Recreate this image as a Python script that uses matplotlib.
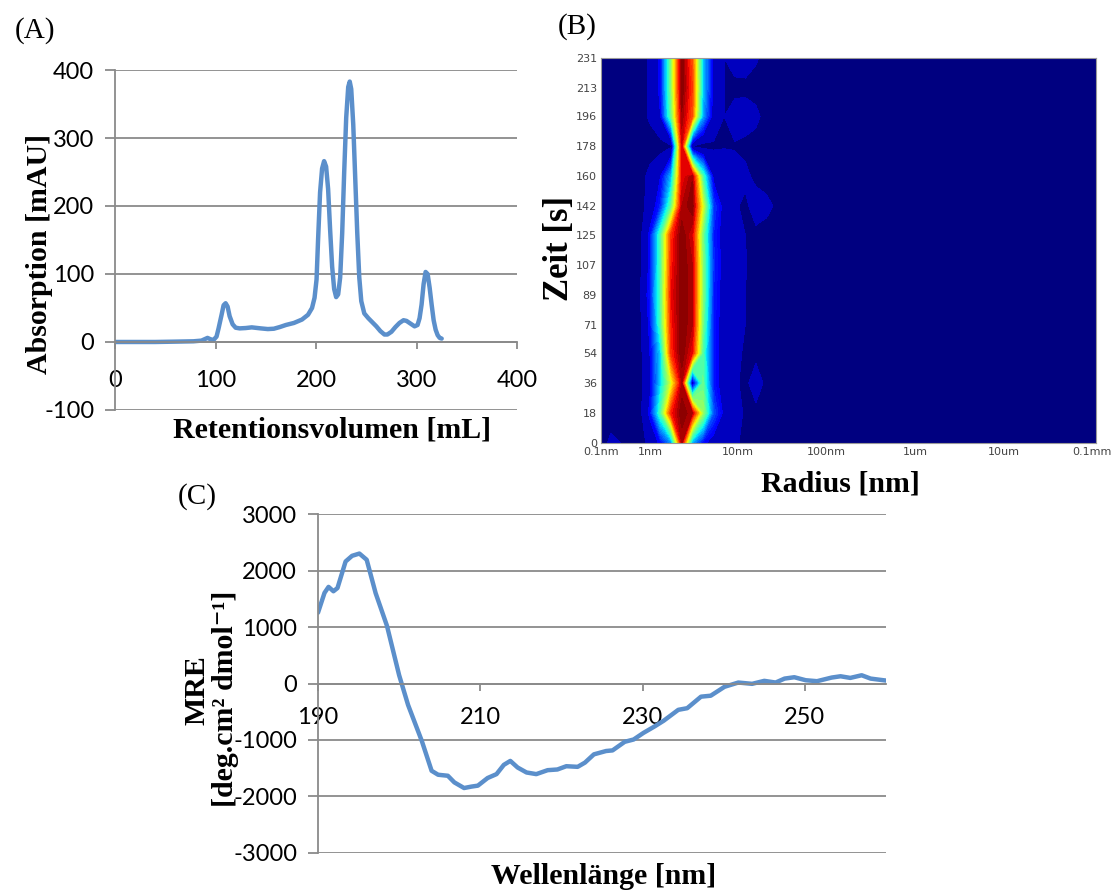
import numpy as np
import matplotlib.pyplot as plt

plt.rcParams['axes.unicode_minus'] = False

# ---- (A) size exclusion chromatogram ----
ret_volume = [0, 20, 40, 60, 78, 86, 92, 95, 98, 101, 103, 106, 108, 110, 112, 114, 117, 120,
              124, 130, 136, 145, 152, 158, 164, 170, 178, 186, 192, 196, 198.5, 200.5, 202,
              204, 206, 208, 210, 212, 214, 216, 218, 220, 222, 224, 226, 228, 230, 232,
              233.5, 235, 237, 239, 241, 243, 245, 248, 252, 256, 260, 264, 268, 271, 275,
              279, 283, 287, 290, 294, 298, 301, 303, 305, 307, 309, 311, 313, 315, 317,
              319, 321, 323, 325]
absorbance = [0, 0, 0, 0.5, 1, 2, 6, 4, 3, 8, 20, 40, 54, 57, 52, 38, 26, 21,
              20, 20.5, 21.5, 20, 19, 19.5, 22, 25, 28, 33, 40, 50, 65, 92, 150,
              220, 255, 266, 258, 225, 165, 111, 78, 66, 70, 95, 160, 250, 330, 375,
              383, 372, 320, 240, 160, 95, 60, 42, 35, 29, 23, 16, 11, 11, 15,
              22, 28, 32, 31, 27, 23, 25, 35, 55, 85, 103, 100, 80, 55, 32,
              18, 10, 6, 5]

# ---- (B) DLS size distribution over time ----
dls_time = [0, 18, 36, 54, 71, 89, 107, 125, 142, 160, 178, 196, 213, 231]
dls_radius_nm = [0.28, 0.36, 0.76, 1.0, 1.32, 1.74, 2.29, 3.02, 3.98, 5.25, 6.92, 9.12,
                 12.0, 15.8, 20.9, 31.6, 100, 1000, 10000, 112000]
dls_intensity = [
    [0, .045, 0, .05, .14, .28, .95, .30, .14, .08, .06, .05, 0, 0, 0, 0, 0, 0, 0, 0],
    [0, 0, 0, .14, .45, .88, 1.0, .95, .55, .22, .10, .06, .02, 0, 0, 0, 0, 0, 0, 0],
    [0, 0, 0, .10, .35, .62, .95, .05, .48, .16, .07, .05, 0, .09, 0, 0, 0, 0, 0, 0],
    [0, 0, 0, .12, .35, .86, 1.0, .90, .45, .16, .08, .05, .02, 0, 0, 0, 0, 0, 0, 0],
    [0, 0, 0, .14, .45, .88, 1.0, .95, .50, .16, .08, .05, .03, 0, 0, 0, 0, 0, 0, 0],
    [0, 0, .02, .16, .46, .90, 1.0, .95, .52, .17, .08, .05, .03, 0, 0, 0, 0, 0, 0, 0],
    [0, 0, 0, .14, .45, .88, 1.0, .95, .52, .18, .09, .06, .035, 0, 0, 0, 0, 0, 0, 0],
    [0, 0, 0, .14, .45, .86, 1.0, .92, .50, .17, .08, .05, .03, 0, 0, 0, 0, 0, 0, 0],
    [0, 0, 0, .06, .18, .48, .95, 1.0, .62, .20, .09, .05, 0, .09, .05, 0, 0, 0, 0, 0],
    [0, 0, 0, .05, .12, .32, .90, .97, .45, .10, .09, .09, .06, 0, 0, 0, 0, 0, 0, 0],
    [0, 0, 0, 0, 0, .02, .92, .02, 0, .02, .025, .02, 0, 0, 0, 0, 0, 0, 0, 0],
    [0, 0, 0, .04, .12, .48, .97, .82, .30, .08, .03, .08, .09, .05, 0, 0, 0, 0, 0, 0],
    [0, 0, 0, .04, .14, .52, 1.0, .85, .34, .10, .03, 0, 0, 0, 0, 0, 0, 0, 0, 0],
    [0, 0, 0, .04, .14, .52, 1.0, .82, .34, .10, .03, .08, .09, .04, 0, 0, 0, 0, 0, 0],
]
radius_tick_nm = [0.28, 1, 10, 100, 1000, 10000, 100000]
radius_ticklabels = ['0.1nm', '1nm', '10nm', '100nm', '1um', '10um', '0.1mm']

# ---- (C) CD spectrum ----
cd_wavelength = [190, 190.8, 191.3, 191.9, 192.4, 193.4, 194.2, 195.1, 196.0, 197.1, 198.5,
                 200.0, 201.1, 202.8, 204.0, 204.8, 206.0, 206.8, 208.0, 208.9, 209.7, 210.9,
                 212.0, 212.9, 213.7, 214.6, 215.7, 216.9, 218.3, 219.5, 220.6, 222.0, 222.9,
                 224.0, 225.5, 226.3, 227.8, 228.9, 230.1, 231.5, 232.6, 234.4, 235.5, 237.2,
                 238.4, 240.1, 241.8, 243.5, 245.0, 246.4, 247.5, 248.7, 250.1, 251.5, 253.3,
                 254.4, 255.6, 257.0, 258.1, 260.0]
cd_mre = [1254, 1604, 1710, 1633, 1690, 2160, 2260, 2300, 2190, 1600, 1020,
          146, -380, -1020, -1545, -1615, -1633, -1750, -1850, -1825, -1808, -1673,
          -1604, -1440, -1370, -1487, -1575, -1604, -1534, -1522, -1464, -1475, -1400,
          -1254, -1195, -1184, -1032, -991, -875, -758, -659, -466, -437, -233,
          -216, -58, 17, -6, 47, 17, 87, 111, 58, 41, 105,
          128, 99, 146, 87, 52]

line_col = '#5b8fcb'
grid_col = '#8a8a8a'
serif = ['Liberation Serif', 'DejaVu Serif']
tick_font = 'Lato'

fig = plt.figure(figsize=(11.17, 8.93), dpi=100)


def excel_axes(ax, xticks, yticks, xpad):
    ax.set_xticks(xticks)
    ax.set_yticks(yticks)
    ax.grid(True, axis='y', color=grid_col, linewidth=1.3)
    ax.set_axisbelow(True)
    for s in ['top', 'right']:
        ax.spines[s].set_visible(False)
    ax.spines['bottom'].set_position(('data', 0))
    for s in ['left', 'bottom']:
        ax.spines[s].set_color(grid_col)
        ax.spines[s].set_linewidth(1.3)
    ax.tick_params(axis='y', length=7, width=1.3, color=grid_col, pad=8, labelsize=17)
    ax.tick_params(axis='x', length=5, width=1.3, color=grid_col, pad=xpad, labelsize=17)
    for lab in ax.get_xticklabels() + ax.get_yticklabels():
        lab.set_fontfamily(tick_font)


# (A)
axA = fig.add_axes([0.1030, 0.5409, 0.3599, 0.3807])
axA.plot(ret_volume, absorbance, color=line_col, linewidth=3.2, solid_capstyle='round')
axA.set_xlim(0, 400)
axA.set_ylim(-100, 400)
excel_axes(axA, [0, 100, 200, 300, 400], [-100, 0, 100, 200, 300, 400], 15)

# (B) flat low band for the faint halo, fine bands for the main peak
axB = fig.add_axes([0.5381, 0.5039, 0.4432, 0.4311])
levels = np.concatenate([[0, 0.03], np.linspace(0.12, 1, 36)])
axB.contourf(np.log10(dls_radius_nm), dls_time, np.array(dls_intensity),
             levels=levels, cmap='jet', vmin=0.02, vmax=1)
axB.set_xlim(np.log10(dls_radius_nm[0]), np.log10(dls_radius_nm[-1]))
axB.set_ylim(0, 231)
axB.set_xticks(np.log10(radius_tick_nm))
axB.set_xticklabels(radius_ticklabels)
axB.set_yticks(dls_time)
axB.tick_params(length=0, labelsize=8, labelcolor='#444444', pad=3)
for s in axB.spines.values():
    s.set_color('#9a9a9a')
    s.set_linewidth(0.8)

# (C)
axC = fig.add_axes([0.2847, 0.0448, 0.5085, 0.3796])
axC.plot(cd_wavelength, cd_mre, color=line_col, linewidth=3.2, solid_capstyle='round')
axC.set_xlim(190, 260)
axC.set_ylim(-3000, 3000)
excel_axes(axC, [190, 210, 230, 250], list(range(-3000, 3001, 1000)), 12)

# labels
fig.text(0.0134, 0.966, '(A)', family=serif, fontsize=21, va='center', ha='left')
fig.text(0.4996, 0.970, '(B)', family=serif, fontsize=21, va='center', ha='left')
fig.text(0.1594, 0.4435, '(C)', family=serif, fontsize=21, va='center', ha='left')

fig.text(0.0358, 0.7156, 'Absorption [mAU]', family=serif, weight='bold', fontsize=21.5,
         rotation=90, ha='center', va='center')
fig.text(0.2972, 0.5185, 'Retentionsvolumen [mL]', family=serif, weight='bold',
         fontsize=21.5, ha='center', va='center')
fig.text(0.5013, 0.7223, 'Zeit [s]', family=serif, weight='bold', fontsize=25,
         rotation=90, ha='center', va='center')
fig.text(0.752, 0.458, 'Radius [nm]', family=serif, weight='bold', fontsize=21.5,
         ha='center', va='center')
fig.text(0.1764, 0.2273, 'MRE', family=serif, weight='bold', fontsize=21.5,
         rotation=90, ha='center', va='center')
fig.text(0.2023, 0.218, '[deg.cm\u00b2 dmol\u207b\u00b9]', family=serif,
         weight='bold', fontsize=21.5, rotation=90, ha='center', va='center')
fig.text(0.54, 0.018, 'Wellenlänge [nm]', family=serif, weight='bold', fontsize=21.5,
         ha='center', va='center')

fig.savefig('out.png', dpi=100)
